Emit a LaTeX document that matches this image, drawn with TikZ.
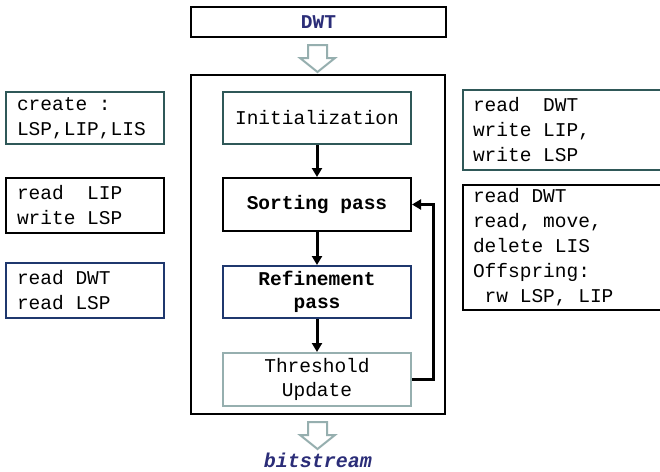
\documentclass[tikz,border=0pt]{standalone}
\usepackage{fontspec}
\setmainfont{Liberation Mono}
\usetikzlibrary{arrows.meta}
\definecolor{tealbox}{RGB}{47,88,88}
\definecolor{navybox}{RGB}{31,56,110}
\definecolor{navytext}{RGB}{43,45,120}
\definecolor{greybox}{RGB}{150,175,175}
% one fixed-width blank of the monospaced font
\newcommand\blank{\hspace*{0.6em}}
\tikzset{
  box/.style={draw, line width=2pt, rectangle, inner sep=0pt, font=\fontsize{19.5}{25}\selectfont},
  sidebox/.style={box, align=left, text width=#1},
  flow/.style={line width=3pt, -{Triangle[length=9pt,width=10pt]}},
  hollow/.style={draw=greybox, line width=2pt, fill=white, line join=miter},
}
\begin{document}
\begin{tikzpicture}[x=1pt,y=-1pt]
\clip (0,0) rectangle (660,471);
\fill[white] (0,0) rectangle (660,471);

% input block and outer frame
\node[box, minimum width=255, minimum height=30, text=navytext, font=\fontsize{19.5}{25}\selectfont\bfseries] (dwt) at (318.5,22) {DWT};
\node[draw, line width=2.5pt, minimum width=254, minimum height=339, inner sep=0pt] (frame) at (318,244.5) {};

% hollow arrows
\draw[hollow] (308,45) -- (327,45) -- (327,58) -- (335,58) -- (317.5,72) -- (300,58) -- (308,58) -- cycle;
\draw[hollow] (308,422) -- (327,422) -- (327,435) -- (335,435) -- (317.5,449) -- (300,435) -- (308,435) -- cycle;
\node[text=navytext, font=\fontsize{20}{24}\selectfont\bfseries\itshape] (bits) at (318,460) {bitstream};

% algorithm steps
\node[box, draw=tealbox, minimum width=188, minimum height=52] (init) at (317,118) {Initialization};
\node[box, minimum width=188, minimum height=53, font=\fontsize{19.5}{25}\selectfont\bfseries] (sort) at (317,204.5) {Sorting\blank pass};
\node[box, draw=navybox, minimum width=188, minimum height=52, align=center, font=\fontsize{19.5}{23}\selectfont\bfseries] (refine) at (317,292) {Refinement\\pass};
\node[box, draw=greybox, minimum width=188, minimum height=53, align=center, font=\fontsize{19.5}{24}\selectfont] (thresh) at (317,379.5) {Threshold\\Update};

\draw[flow] (init) -- (sort);
\draw[flow] (sort) -- (refine);
\draw[flow] (refine) -- (thresh);
\coordinate (loopb) at (433,379);
\coordinate (loopt) at (433,204.5);
\draw[flow, line join=miter] (thresh.east |- loopb) -- (loopb) -- (loopt) -- (sort.east);

% left notes
\node[sidebox=136, draw=tealbox, minimum width=158, minimum height=52] (n1) at (85,118) {create\blank:\\LSP,LIP,LIS};
\node[sidebox=136, minimum width=158, minimum height=55] (n2) at (85,205.5) {read\blank\blank LIP\\write\blank LSP};
\node[sidebox=136, draw=navybox, minimum width=158, minimum height=55] (n3) at (85,290.5) {read\blank DWT\\read\blank LSP};

% right notes
\node[sidebox=200, draw=tealbox, minimum width=220, minimum height=80] (n4) at (573,130) {read\blank\blank DWT\\write\blank LIP,\\write\blank LSP};
\node[sidebox=200, minimum width=220, minimum height=125] (n5) at (573,247.5) {read\blank DWT\\read,\blank move,\\delete\blank LIS\\Offspring:\\\blank rw\blank LSP,\blank LIP};
\end{tikzpicture}
\end{document}
